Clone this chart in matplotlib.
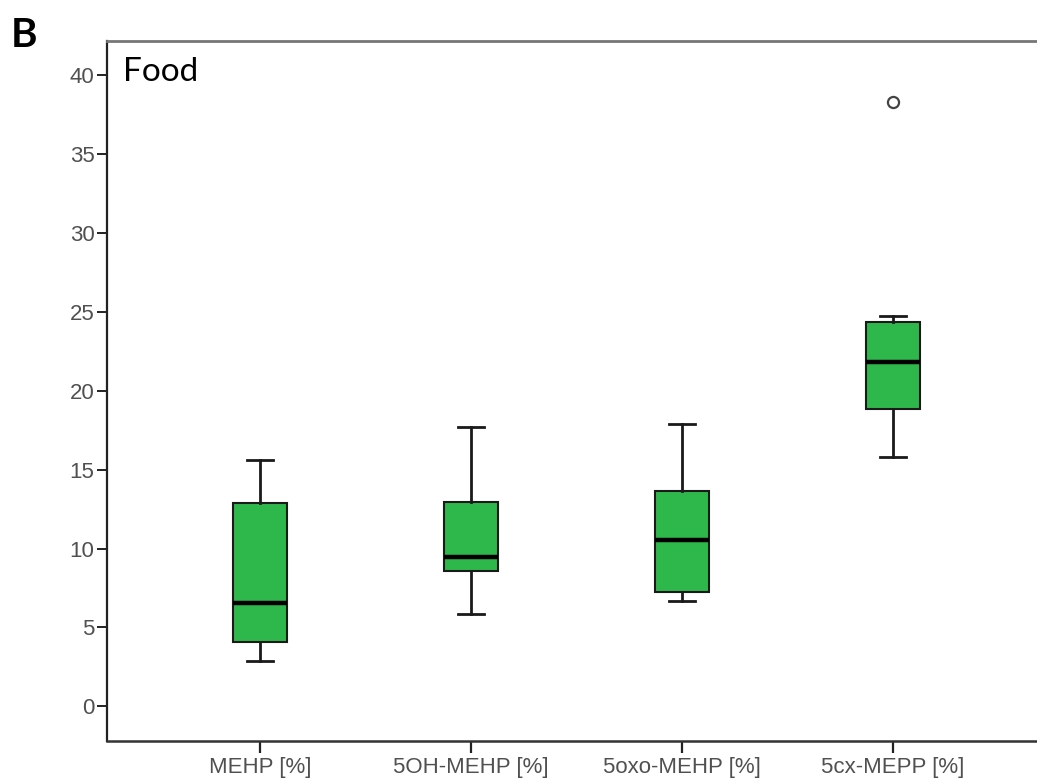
import matplotlib
matplotlib.use("Agg")
import matplotlib.pyplot as plt

# Percentage share of each metabolite (Food group)
categories = ["MEHP [%]", "5OH-MEHP [%]", "5oxo-MEHP [%]", "5cx-MEPP [%]"]
whisker_low = [2.85, 5.83, 6.66, 15.79]
quartile_1 = [4.06, 8.56, 7.23, 18.83]
medians = [6.53, 9.45, 10.53, 21.81]
quartile_3 = [12.87, 12.94, 13.63, 24.35]
whisker_high = [15.6, 17.7, 17.88, 24.73]
outliers = [[], [], [], [38.3]]
y_ticks = [0, 5, 10, 15, 20, 25, 30, 35, 40]

stats = []
for i, name in enumerate(categories):
    stats.append(dict(label=name, whislo=whisker_low[i], q1=quartile_1[i],
                      med=medians[i], q3=quartile_3[i], whishi=whisker_high[i],
                      fliers=outliers[i]))

fig = plt.figure(figsize=(10.37, 7.84), dpi=100)
ax = fig.add_axes([107 / 1037, 43 / 784, (1046 - 107) / 1037, (743.3 - 43) / 784])

positions = list(range(1, len(categories) + 1))
ax.bxp(stats, positions=positions, widths=0.256, patch_artist=True,
       boxprops=dict(facecolor="#2EB84B", edgecolor="#1a1a1a", linewidth=1.5),
       medianprops=dict(color="black", linewidth=3.2),
       whiskerprops=dict(color="#1a1a1a", linewidth=2.0),
       capprops=dict(color="#1a1a1a", linewidth=2.0),
       capwidths=0.123,
       flierprops=dict(marker="o", markersize=8, markerfacecolor="white",
                       markeredgecolor="#444444", markeredgewidth=1.6))

ax.set_xlim(0.275, 4.725)
ax.set_ylim(-2.2, 42.2)
ax.set_yticks(y_ticks)
ax.set_yticklabels([str(t) for t in y_ticks])
ax.set_xticks(positions)
ax.set_xticklabels(categories)

ax.spines["left"].set_color("#222222")
ax.spines["left"].set_linewidth(1.6)
ax.spines["bottom"].set_color("#333333")
ax.spines["bottom"].set_linewidth(1.8)
ax.spines["top"].set_color("#777777")
ax.spines["top"].set_linewidth(2.0)
ax.spines["right"].set_visible(False)

ax.tick_params(axis="y", direction="out", length=7, width=1.4, color="#222222",
               pad=2, labelsize=16, labelcolor="#505050")
ax.tick_params(axis="x", direction="out", length=8.5, width=1.6, color="#222222",
               pad=3, labelsize=16, labelcolor="#505050")
for lbl in ax.get_xticklabels() + ax.get_yticklabels():
    lbl.set_fontfamily("Liberation Sans")

fig.text(123 / 1037, 1 - 81 / 784, "Food", fontsize=24, family="Lato",
         color="black", va="baseline", ha="left")
fig.text(11 / 1037, 1 - 47 / 784, "B", fontsize=29, family="Lato",
         fontweight="bold", color="black", va="baseline", ha="left")

fig.savefig("out.png", dpi=100)
